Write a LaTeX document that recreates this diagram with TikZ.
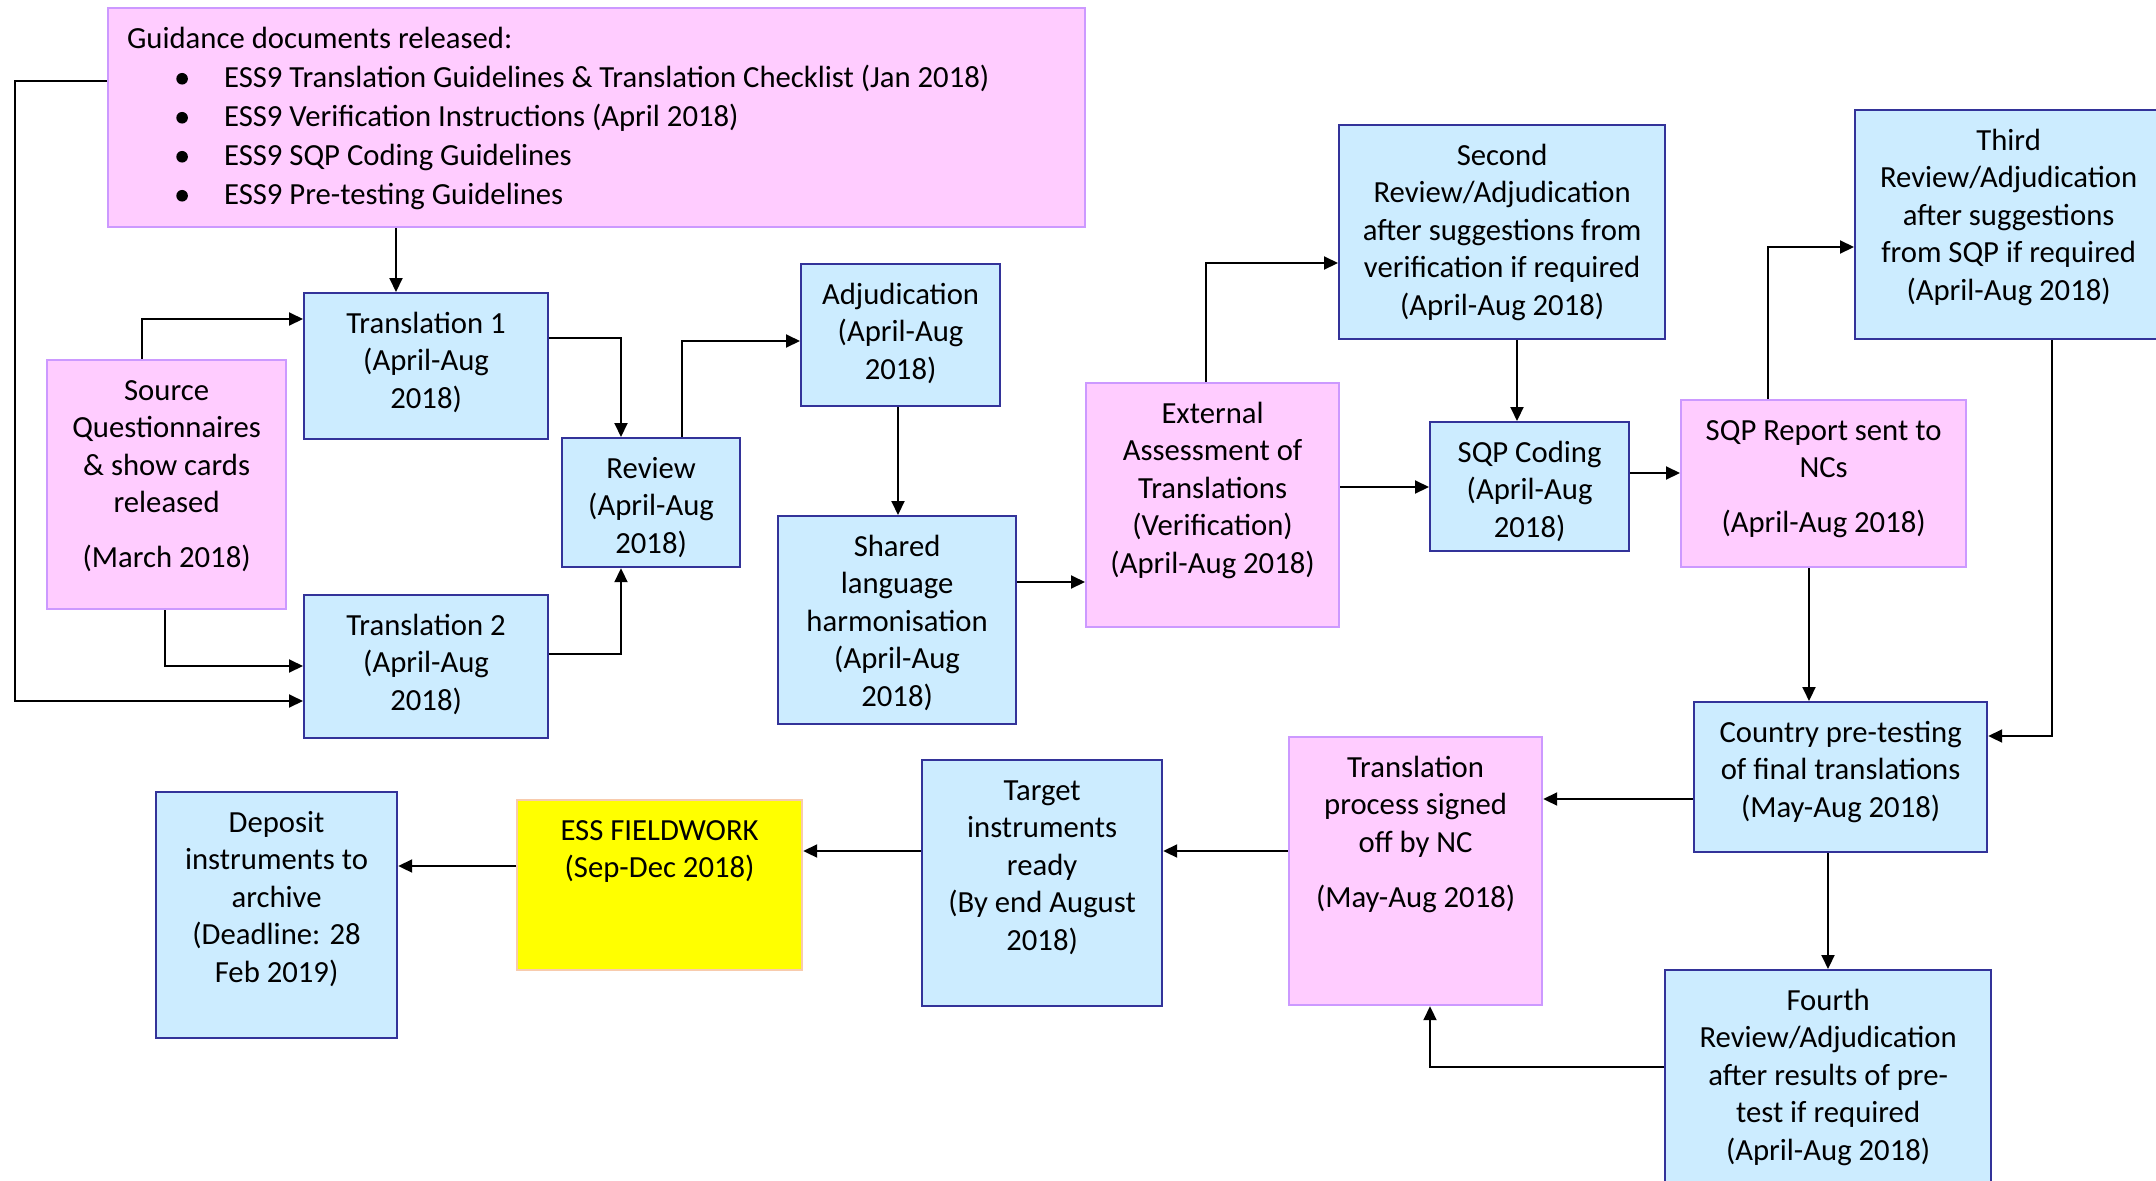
\documentclass[tikz,border=0pt]{standalone}
\usepackage{fontspec}
\setmainfont{Carlito}
\usetikzlibrary{arrows.meta}
\definecolor{bluefill}{HTML}{CCECFF}
\definecolor{blueline}{HTML}{333399}
\definecolor{pinkfill}{HTML}{FFCCFF}
\definecolor{pinkline}{HTML}{CC99FF}
\definecolor{yelfill}{HTML}{FFFF00}
\definecolor{yelline}{HTML}{F8CBAD}
\newcommand\padv{14pt}
\newcommand\mybul{\tikz[baseline=0pt,x=1pt,y=1pt]\fill[black] (0,8.6) circle[radius=5.8];}
\newcommand\mybox[7]{%
  \pgfmathsetmacro\bw{#5-#3}%
  \pgfmathsetmacro\bh{#6-#4}%
  \node[#2] (#1) at (#3,#4) {\parbox[c][\bh pt][t]{\bw pt}{\vspace*{\padv}\centering\strut #7\par}};%
}
\tikzset{
  boxbase/.style={anchor=north west, inner sep=0pt, line width=2.2pt, font=\fontsize{30.7}{37.5}\selectfont},
  bluebox/.style={boxbase, draw=blueline, fill=bluefill},
  pinkbox/.style={boxbase, draw=pinkline, fill=pinkfill},
  yelbox/.style={boxbase, draw=yelline, fill=yelfill},
  conn/.style={line width=2pt, draw=black},
  arr/.style={conn, -{Triangle[length=14pt,width=13pt]}}
}
\begin{document}
\begin{tikzpicture}[x=1pt,y=-1pt]
\useasboundingbox (0,0) rectangle (2156,1181);
\clip (0,0) rectangle (2156,1181);

\node[pinkbox] (guide) at (107,7) {\parbox[c][219pt][t]{977pt}{\vspace*{\padv}\raggedright\leftskip=19pt\relax\baselineskip=39pt\relax
\strut Guidance documents released:\\
\hspace*{55pt}\makebox[0pt]{\mybul}\hspace*{42pt}ESS9 Translation Guidelines \& Translation Checklist (Jan 2018)\\
\hspace*{55pt}\makebox[0pt]{\mybul}\hspace*{42pt}ESS9 Verification Instructions (April 2018)\\
\hspace*{55pt}\makebox[0pt]{\mybul}\hspace*{42pt}ESS9 SQP Coding Guidelines\\
\hspace*{55pt}\makebox[0pt]{\mybul}\hspace*{42pt}ESS9 Pre-testing Guidelines\par}};

\mybox{t1}{bluebox}{303}{292}{547}{438}{Translation 1\\(April-Aug\\2018)}
\mybox{src}{pinkbox}{46}{359}{285}{608}{Source\\Questionnaires\\\& show cards\\released\\[17.5pt](March 2018)}
\mybox{t2}{bluebox}{303}{594}{547}{737}{Translation 2\\(April-Aug\\2018)}
\mybox{rev}{bluebox}{561}{437}{739}{566}{Review\\(April-Aug\\2018)}
\mybox{adj}{bluebox}{800}{263}{999}{405}{Adjudication\\(April-Aug\\2018)}
\mybox{sh}{bluebox}{777}{515}{1015}{723}{Shared\\language\\harmonisation\\(April-Aug\\2018)}
\mybox{ext}{pinkbox}{1085}{382}{1338}{626}{External\\Assessment of\\Translations\\(Verification)\\(April-Aug 2018)}
\mybox{sec}{bluebox}{1338}{124}{1664}{338}{Second\\Review/Adjudication\\after suggestions from\\verification if required\\(April-Aug 2018)}
\mybox{sqp}{bluebox}{1429}{421}{1628}{550}{SQP Coding\\(April-Aug\\2018)}
\mybox{rep}{pinkbox}{1680}{399}{1965}{566}{SQP Report sent to\\NCs\\[17.5pt](April-Aug 2018)}
\mybox{third}{bluebox}{1854}{109}{2161}{338}{Third\\Review/Adjudication\\after suggestions\\from SQP if required\\(April-Aug 2018)}
\mybox{cty}{bluebox}{1693}{701}{1986}{851}{Country pre-testing\\of final translations\\(May-Aug 2018)}
\mybox{sgn}{pinkbox}{1288}{736}{1541}{1004}{Translation\\process signed\\off by NC\\[17.5pt](May-Aug 2018)}
\mybox{four}{bluebox}{1664}{969}{1990}{1200}{Fourth\\Review/Adjudication\\after results of pre-\\test if required\\(April-Aug 2018)}
\mybox{tgt}{bluebox}{921}{759}{1161}{1005}{Target\\instruments\\ready\\(By end August\\2018)}
\mybox{fw}{yelbox}{516}{799}{801}{969}{ESS FIELDWORK\\(Sep-Dec 2018)}
\mybox{dep}{bluebox}{155}{791}{396}{1037}{Deposit\\instruments to\\archive\\(Deadline: 28\\Feb 2019)}

\coordinate (loopA) at (15,81);
\coordinate (loopB) at (15,701);
\coordinate (gx) at (396,250);
\coordinate (sA) at (142,319);
\coordinate (sB) at (165,666);
\coordinate (rA) at (621,338);
\coordinate (rB) at (621,654);
\coordinate (rC) at (682,341);
\coordinate (ax) at (898,460);
\coordinate (shy) at (1050,582);
\coordinate (eA) at (1206,263);
\coordinate (secx) at (1517,380);
\coordinate (exy) at (1380,487);
\coordinate (sqy) at (1650,473);
\coordinate (pA) at (1768,247);
\coordinate (repx) at (1809,630);
\coordinate (tA) at (2052,736);
\coordinate (ctyy) at (1600,799);
\coordinate (ctx) at (1828,910);
\coordinate (fA) at (1430,1067);
\coordinate (sgy) at (1200,851);
\coordinate (fwy) at (450,866);

\draw[arr] (guide.south -| gx) -- (t1.north -| gx);
\draw[arr] (guide.west |- loopA) -- (loopA) -- (loopB) -- (t2.west |- loopB);
\draw[arr] (src.north -| sA) -- (sA) -- (t1.west |- sA);
\draw[arr] (src.south -| sB) -- (sB) -- (t2.west |- sB);
\draw[arr] (t1.east |- rA) -- (rA) -- (rev.north -| rA);
\draw[arr] (t2.east |- rB) -- (rB) -- (rev.south -| rB);
\draw[arr] (rev.north -| rC) -- (rC) -- (adj.west |- rC);
\draw[arr] (adj.south -| ax) -- (sh.north -| ax);
\draw[arr] (sh.east |- shy) -- (ext.west |- shy);
\draw[arr] (ext.north -| eA) -- (eA) -- (sec.west |- eA);
\draw[arr] (sec.south -| secx) -- (sqp.north -| secx);
\draw[arr] (ext.east |- exy) -- (sqp.west |- exy);
\draw[arr] (sqp.east |- sqy) -- (rep.west |- sqy);
\draw[arr] (rep.north -| pA) -- (pA) -- (third.west |- pA);
\draw[arr] (rep.south -| repx) -- (cty.north -| repx);
\draw[arr] (third.south -| tA) -- (tA) -- (cty.east |- tA);
\draw[arr] (cty.west |- ctyy) -- (sgn.east |- ctyy);
\draw[arr] (cty.south -| ctx) -- (four.north -| ctx);
\draw[arr] (four.west |- fA) -- (fA) -- (sgn.south -| fA);
\draw[arr] (sgn.west |- sgy) -- (tgt.east |- sgy);
\draw[arr] (tgt.west |- sgy) -- (fw.east |- sgy);
\draw[arr] (fw.west |- fwy) -- (dep.east |- fwy);
\end{tikzpicture}
\end{document}
